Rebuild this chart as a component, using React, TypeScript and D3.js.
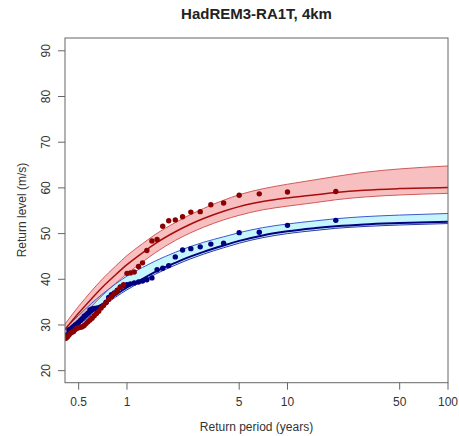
import React from "react";
import * as d3 from "d3";

const periods = [20, 10, 6.67, 5, 4, 3.33, 2.86, 2.5, 2.22, 2, 1.82, 1.67, 1.54, 1.43, 1.33, 1.25, 1.18, 1.11, 1.05, 1, 0.952, 0.909, 0.87, 0.833, 0.8, 0.769, 0.741, 0.714, 0.69, 0.667, 0.645, 0.625, 0.606, 0.588, 0.571, 0.556, 0.541, 0.526, 0.513, 0.5, 0.488, 0.476, 0.465, 0.455, 0.444, 0.435, 0.426, 0.417];

const redObs = [59.2, 59.1, 58.7, 58.4, 56.7, 56.3, 54.8, 54.7, 53.7, 53.0, 52.8, 51.6, 48.7, 48.4, 46.3, 43.6, 42.8, 41.6, 41.4, 41.3, 38.8, 38.2, 37.5, 36.9, 36.2, 35.6, 34.9, 34.3, 33.7, 33.0, 32.5, 32.0, 31.5, 31.1, 30.7, 30.3, 29.9, 29.6, 29.5, 29.4, 29.3, 29.0, 28.6, 28.4, 28.2, 27.8, 27.4, 27.1];

const blueObs = [52.9, 51.8, 50.3, 50.2, 47.9, 47.7, 47.1, 46.7, 46.4, 44.9, 43.0, 42.4, 42.1, 40.3, 39.9, 39.6, 39.4, 39.2, 39.0, 38.8, 38.6, 38.3, 37.6, 37.0, 36.6, 36.0, 35.0, 34.3, 34.0, 33.8, 33.7, 33.6, 33.5, 33.3, 32.6, 32.2, 31.9, 31.4, 31.0, 30.6, 30.3, 30.0, 29.7, 29.4, 29.1, 28.9];

const curveT = [0.411, 0.5, 0.6, 0.7, 0.85, 1, 1.25, 1.5, 2, 2.5, 3, 4, 5, 7, 10, 15, 20, 30, 50, 100];
const redFit = [29.0, 32.6, 35.7, 38.2, 41.0, 43.2, 45.8, 47.8, 50.4, 52.1, 53.3, 54.9, 55.9, 57.0, 57.8, 58.5, 59.0, 59.5, 59.85, 60.1];
const redUpper = [30.2, 34.1, 37.4, 40.0, 42.9, 45.2, 47.8, 49.8, 52.4, 54.2, 55.5, 57.3, 58.5, 59.8, 60.8, 61.8, 62.5, 63.4, 64.15, 64.8];
const redLower = [27.8, 31.1, 34.0, 36.4, 39.1, 41.2, 43.8, 45.8, 48.5, 50.2, 51.4, 53.0, 54.0, 55.2, 56.0, 56.8, 57.4, 58.0, 58.45, 58.8];
const blueFit = [27.9, 30.4, 32.7, 34.5, 36.6, 38.2, 40.1, 41.6, 43.6, 45.0, 46.0, 47.4, 48.4, 49.6, 50.5, 51.2, 51.6, 52.0, 52.3, 52.6];
const blueUpper = [29.2, 32.1, 34.7, 36.7, 39.0, 40.7, 42.6, 44.0, 45.9, 47.2, 48.1, 49.3, 50.2, 51.3, 52.1, 52.8, 53.25, 53.7, 54.05, 54.4];
const blueLower = [27.6, 30.0, 32.2, 34.0, 36.1, 37.7, 39.6, 41.1, 43.1, 44.5, 45.5, 46.9, 47.9, 49.1, 50.0, 50.7, 51.15, 51.55, 51.88, 52.2];

const xTicks = [0.5, 1, 5, 10, 50, 100];
const yTicks = [20, 30, 40, 50, 60, 70, 80, 90];

export default function App() {
  const W = 459, H = 436;
  const L = 65, R = 448, T = 38, B = 382.7;
  const x = d3.scaleLog().domain([0.411, 100]).range([L, R]);
  const y = d3.scaleLinear().domain([17.37, 92.8]).range([B, T]);
  const font = "Liberation Sans, Arial, Helvetica, sans-serif";

  const area = (lo: number[], hi: number[]) =>
    d3.area<number>().x((_, i) => x(curveT[i])).y0((_, i) => y(lo[i])).y1((_, i) => y(hi[i])).curve(d3.curveMonotoneX)(curveT) || "";
  const line = (v: number[]) =>
    d3.line<number>().x((_, i) => x(curveT[i])).y((_, i) => y(v[i])).curve(d3.curveMonotoneX)(curveT) || "";

  return (
    <svg width={W} height={H} style={{ position: "absolute", left: 0, top: 0 }} fontFamily={font}>
      <rect x={0} y={0} width={W} height={H} fill="white" />
      <defs>
        <clipPath id="plotclip">
          <rect x={L} y={T} width={R - L} height={B - T} />
        </clipPath>
      </defs>
      <text x={256.5} y={19} textAnchor="middle" fontSize={15} fontWeight="bold" fill="#222">HadREM3-RA1T, 4km</text>
      <g clipPath="url(#plotclip)">
        <path d={area(blueLower, blueUpper)} fill="#c6f6fd" />
        <path d={area(redLower, redUpper)} fill="#f08080" fillOpacity={0.5} />
        <path d={line(redUpper)} fill="none" stroke="#d05a5a" strokeWidth={1} />
        <path d={line(redLower)} fill="none" stroke="#d05a5a" strokeWidth={1} />
        <path d={line(blueUpper)} fill="none" stroke="#3a5ad0" strokeWidth={1} />
        <path d={line(blueLower)} fill="none" stroke="#2a3aa8" strokeWidth={1} />
        <path d={line(blueFit)} fill="none" stroke="#000080" strokeWidth={2} />
        <path d={line(redFit)} fill="none" stroke="#a80c0c" strokeWidth={1.5} />
        {blueObs.map((v, i) => (
          <circle key={"b" + i} cx={x(periods[i])} cy={y(v)} r={2.7} fill="#000080" />
        ))}
        {redObs.map((v, i) => (
          <circle key={"r" + i} cx={x(periods[i])} cy={y(v)} r={2.7} fill="#8b0000" />
        ))}
      </g>
      <rect x={L} y={T} width={R - L} height={B - T} fill="none" stroke="#666" strokeWidth={1} />
      {yTicks.map((t) => (
        <g key={"y" + t}>
          <line x1={L - 7} x2={L} y1={y(t)} y2={y(t)} stroke="#666" />
          <text transform={`translate(${L - 15},${y(t)}) rotate(-90)`} textAnchor="middle" fontSize={12} fill="#333">{t}</text>
        </g>
      ))}
      {xTicks.map((t) => (
        <g key={"x" + t}>
          <line x1={x(t)} x2={x(t)} y1={B} y2={B + 7} stroke="#666" />
          <text x={x(t)} y={B + 23} textAnchor="middle" fontSize={12} fill="#333">{t}</text>
        </g>
      ))}
      <text x={256.5} y={431} textAnchor="middle" fontSize={12} fill="#333">Return period (years)</text>
      <text transform={`translate(25.5,210) rotate(-90)`} textAnchor="middle" fontSize={12} fill="#333">Return level (m/s)</text>
    </svg>
  );
}
